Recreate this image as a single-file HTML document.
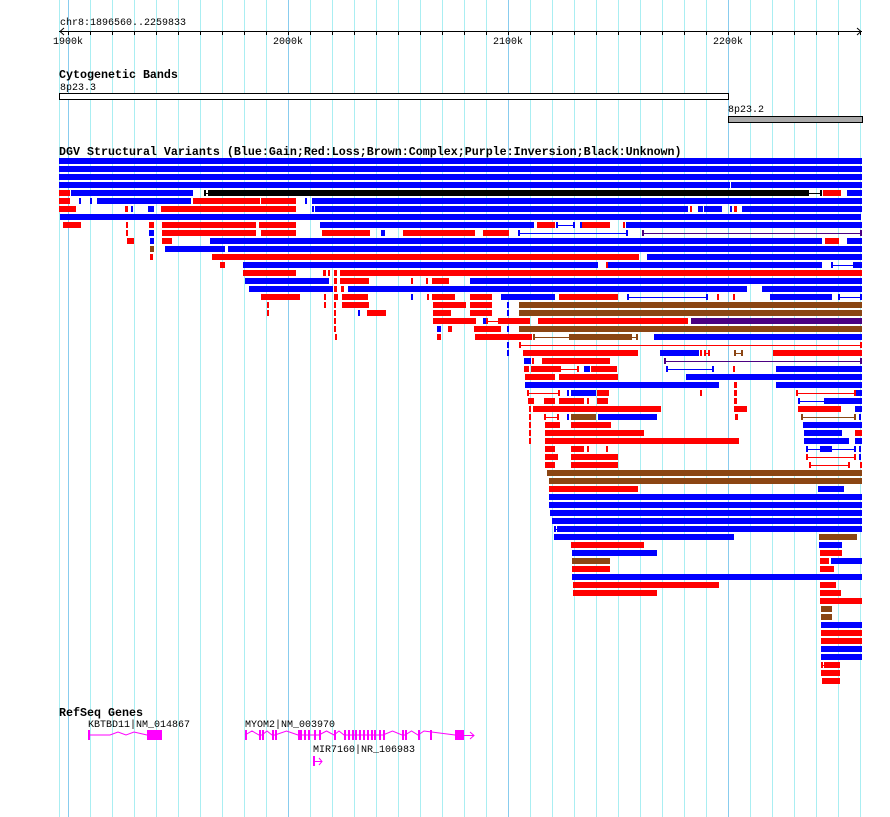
<!DOCTYPE html>
<html><head><meta charset="utf-8"><style>
body{margin:0;background:#fff;width:890px;height:817px;overflow:hidden}
svg{display:block}
text{font-family:"Liberation Mono","DejaVu Sans Mono",monospace;font-size:10px;fill:#000}
.b{font-weight:bold;font-size:11.67px}
</style></head><body>
<svg id="s" width="890" height="817" xmlns="http://www.w3.org/2000/svg">
<rect width="890" height="817" fill="#fff"/>
<g id="grid"></g>
<g id="axis" stroke="#000" stroke-width="1">
<line x1="59" y1="31.5" x2="862" y2="31.5"/>
<polyline points="64,28 60,31.5 64,35" fill="none"/>
<polyline points="857,28 861,31.5 857,35" fill="none"/>
</g>
<g id="ticks"></g>
<text x="60" y="25">chr8:1896560..2259833</text>
<text x="53" y="44">1900k</text>
<text x="273" y="44">2000k</text>
<text x="493" y="44">2100k</text>
<text x="713" y="44">2200k</text>
<text class="b" x="59" y="78">Cytogenetic Bands</text>
<text x="60" y="90">8p23.3</text>
<rect x="59.5" y="93.5" width="669" height="6" fill="#fff" stroke="#000"/>
<text x="728" y="112">8p23.2</text>
<rect x="728.5" y="116.5" width="134" height="6" fill="#aaa" stroke="#000"/>
<text class="b" x="59" y="155">DGV Structural Variants (Blue:Gain;Red:Loss;Brown:Complex;Purple:Inversion;Black:Unknown)</text>
<g id="dgv"></g>
<text class="b" x="59" y="716">RefSeq Genes</text>
<text x="88" y="727">KBTBD11|NM_014867</text>
<text x="245" y="727">MYOM2|NM_003970</text>
<text x="313" y="752">MIR7160|NR_106983</text>
<g id="genes" fill="#ff00ff" stroke="#ff00ff"></g>
</svg>
<script>
var NS="http://www.w3.org/2000/svg";
function el(p,t,a){var e=document.createElementNS(NS,t);for(var k in a)e.setAttribute(k,a[k]);document.getElementById(p).appendChild(e);return e;}
el("grid","line",{x1:59.5,y1:0,x2:59.5,y2:817,stroke:"#aaeef2"});
for(var x=68;x<=862;x+=22){var maj=((x-68)%220==0);
el("grid","line",{x1:x+0.5,y1:0,x2:x+0.5,y2:817,stroke:maj?"#88ccee":"#aaeef2"});
el("ticks","line",{x1:x+0.5,y1:31,x2:x+0.5,y2:35,stroke:"#000"});}
var C={B:"#0000ff",R:"#ff0000",N:"#8b4513",P:"#4b0082",K:"#000000"};
var rows=[
[157,[[59,862,"B"]]],
[165,[[59,862,"B"]]],
[173,[[59,862,"B"]]],
[181,[[59,730,"B"],[731,862,"B"]]],
[189,[[59,70,"R"],[71,193,"B"],[204,210,"k"],[210,807,"K"],[807,822,"k"],[823,841,"R"],[847,862,"B"]]],
[197,[[59,70,"R"],[79,81,"B"],[90,92,"B"],[97,191,"B"],[193,260,"R"],[261,296,"R"],[305,307,"B"],[312,862,"B"]]],
[205,[[59,76,"R"],[125,128,"R"],[131,133,"B"],[148,154,"B"],[161,296,"R"],[312,314,"B"],[315,688,"B"],[690,692,"R"],[698,703,"B"],[704,722,"B"],[730,732,"B"],[734,737,"R"],[742,862,"B"]]],
[213,[[60,861,"B"]]],
[221,[[63,81,"R"],[126,128,"R"],[149,154,"R"],[162,256,"R"],[259,296,"R"],[320,534,"B"],[537,555,"R"],[556,575,"b"],[580,582,"B"],[582,610,"R"],[623,625,"R"],[626,862,"B"]]],
[229,[[126,128,"R"],[149,154,"B"],[162,256,"R"],[261,296,"R"],[322,370,"R"],[381,385,"B"],[403,475,"R"],[483,509,"R"],[518,628,"b"],[642,862,"p"]]],
[237,[[127,134,"R"],[150,154,"B"],[162,172,"R"],[210,822,"B"],[825,839,"R"],[847,862,"B"]]],
[245,[[150,154,"N"],[165,225,"B"],[228,862,"B"]]],
[253,[[150,153,"R"],[212,639,"R"],[647,862,"B"]]],
[261,[[220,225,"R"],[243,598,"B"],[606,608,"R"],[608,822,"B"],[831,855,"b"],[855,862,"B"]]],
[269,[[243,296,"R"],[323,326,"R"],[328,330,"R"],[334,337,"R"],[340,862,"R"]]],
[277,[[245,329,"B"],[334,337,"R"],[340,369,"R"],[411,413,"R"],[426,428,"R"],[432,449,"R"],[470,862,"B"]]],
[285,[[249,333,"B"],[334,337,"R"],[341,344,"R"],[348,747,"B"],[762,862,"B"]]],
[293,[[261,300,"R"],[324,326,"R"],[334,338,"R"],[342,368,"R"],[411,413,"B"],[427,429,"R"],[432,455,"R"],[470,492,"R"],[501,555,"B"],[559,618,"R"],[627,708,"b"],[717,719,"R"],[733,735,"R"],[770,832,"B"],[838,862,"b"]]],
[301,[[267,269,"R"],[324,326,"R"],[334,336,"R"],[342,369,"R"],[433,466,"R"],[470,492,"R"],[507,509,"B"],[519,862,"N"]]],
[309,[[267,269,"R"],[334,336,"R"],[358,360,"B"],[367,386,"R"],[433,451,"R"],[470,492,"R"],[507,509,"B"],[519,862,"N"]]],
[317,[[334,336,"R"],[433,476,"R"],[483,486,"B"],[486,500,"r"],[500,526,"R"],[526,530,"r"],[538,688,"R"],[691,862,"P"]]],
[325,[[334,336,"R"],[437,441,"B"],[448,452,"R"],[474,501,"R"],[507,509,"B"],[519,862,"N"]]],
[333,[[335,337,"R"],[437,441,"R"],[475,532,"R"],[533,571,"n"],[571,630,"N"],[630,638,"n"],[654,862,"B"]]],
[341,[[507,509,"B"],[519,862,"r"]]],
[349,[[507,509,"B"],[523,638,"R"],[660,699,"B"],[700,702,"R"],[704,710,"r"],[734,743,"n"],[773,862,"R"]]],
[357,[[524,531,"B"],[532,534,"R"],[542,610,"R"],[664,862,"p"]]],
[365,[[524,529,"R"],[531,559,"R"],[559,579,"r"],[584,590,"B"],[591,617,"R"],[666,714,"b"],[733,735,"R"],[776,862,"B"]]],
[373,[[525,555,"R"],[559,618,"R"],[686,862,"B"]]],
[381,[[525,719,"B"],[734,737,"R"],[776,862,"B"]]],
[389,[[527,560,"r"],[567,569,"B"],[571,596,"B"],[597,609,"R"],[700,702,"R"],[734,737,"R"],[796,856,"r"],[856,862,"B"]]],
[397,[[528,534,"R"],[544,555,"R"],[559,584,"R"],[587,589,"R"],[597,608,"R"],[734,737,"R"],[798,826,"b"],[826,862,"B"]]],
[405,[[529,531,"R"],[533,661,"R"],[734,747,"R"],[798,841,"R"],[855,862,"B"]]],
[413,[[529,531,"R"],[544,559,"r"],[567,569,"B"],[571,596,"N"],[598,657,"B"],[735,738,"R"],[801,856,"n"],[859,861,"B"]]],
[421,[[529,531,"R"],[545,560,"R"],[571,611,"R"],[803,862,"B"]]],
[429,[[529,531,"R"],[545,644,"R"],[804,842,"B"],[855,862,"R"]]],
[437,[[529,531,"R"],[545,739,"R"],[804,849,"B"],[855,862,"B"]]],
[445,[[545,555,"R"],[571,584,"R"],[587,589,"R"],[606,608,"R"],[806,856,"b"],[820,832,"B"],[859,861,"B"]]],
[453,[[545,558,"R"],[571,618,"R"],[806,856,"r"],[859,861,"B"]]],
[461,[[545,555,"R"],[571,618,"R"],[809,850,"r"],[860,862,"R"]]],
[469,[[547,862,"N"]]],
[477,[[549,862,"N"]]],
[485,[[549,638,"R"],[818,844,"B"]]],
[493,[[549,862,"B"]]],
[501,[[549,862,"B"]]],
[509,[[550,862,"B"]]],
[517,[[552,862,"B"]]],
[525,[[554,559,"b"],[559,862,"B"]]],
[533,[[554,734,"B"],[819,857,"N"]]],
[541,[[571,644,"R"],[819,842,"B"]]],
[549,[[572,657,"B"],[820,842,"R"]]],
[557,[[572,610,"N"],[820,829,"R"],[831,862,"B"]]],
[565,[[572,610,"R"],[820,834,"R"]]],
[573,[[572,862,"B"]]],
[581,[[573,719,"R"],[820,836,"R"]]],
[589,[[573,657,"R"],[820,841,"R"]]],
[597,[[820,862,"R"]]],
[605,[[821,832,"N"]]],
[613,[[821,832,"N"]]],
[621,[[821,862,"B"]]],
[629,[[821,862,"R"]]],
[637,[[821,862,"R"]]],
[645,[[821,862,"B"]]],
[653,[[821,862,"B"]]],
[661,[[821,826,"r"],[826,840,"R"]]],
[669,[[821,840,"R"]]],
[677,[[822,840,"R"]]]
];
rows.forEach(function(r){var y=r[0]+1;r[1].forEach(function(s){var c=s[2],col=C[c.toUpperCase()];
if(c===c.toUpperCase()){el("dgv","rect",{x:s[0],y:y,width:s[1]-s[0],height:6,fill:col});}
else{el("dgv","rect",{x:s[0],y:y+3,width:s[1]-s[0],height:1,fill:col});
el("dgv","rect",{x:s[0],y:y,width:2,height:6,fill:col});el("dgv","rect",{x:s[1]-2,y:y,width:2,height:6,fill:col});}});});
el("genes","rect",{x:88,y:730,width:2,height:10,stroke:"none"});
el("genes","polyline",{points:"89,735 110,735 118,732 126,735 134,732 147,735",fill:"none","stroke-width":1});
el("genes","rect",{x:147,y:730,width:15,height:10,stroke:"none"});
var ex=[245,259,262,272,275,298,300,304,308,314,319,334,344,348,352,355,359,363,367,371,374,379,383,402,405,418,430];
var pts=[];for(var i=0;i<ex.length-1;i++){var a=ex[i],b=ex[i+1];pts.push(a+","+735);pts.push(((a+b)/2)+","+(b-a>6?731:735));}
pts.push("455,735");
el("genes","polyline",{points:pts.join(" "),fill:"none","stroke-width":1});
ex.forEach(function(x){el("genes","rect",{x:x,y:730,width:2,height:10,stroke:"none"});});
el("genes","rect",{x:455,y:730,width:9,height:10,stroke:"none"});
el("genes","line",{x1:464,y1:735.5,x2:474,y2:735.5,"stroke-width":1});
el("genes","polyline",{points:"470,732 474,735.5 470,739",fill:"none","stroke-width":1});
el("genes","rect",{x:313,y:756,width:2,height:10,stroke:"none"});
el("genes","line",{x1:315,y1:761.5,x2:322,y2:761.5,"stroke-width":1});
el("genes","polyline",{points:"319,758 322,761.5 319,765",fill:"none","stroke-width":1});
</script>
</body></html>
